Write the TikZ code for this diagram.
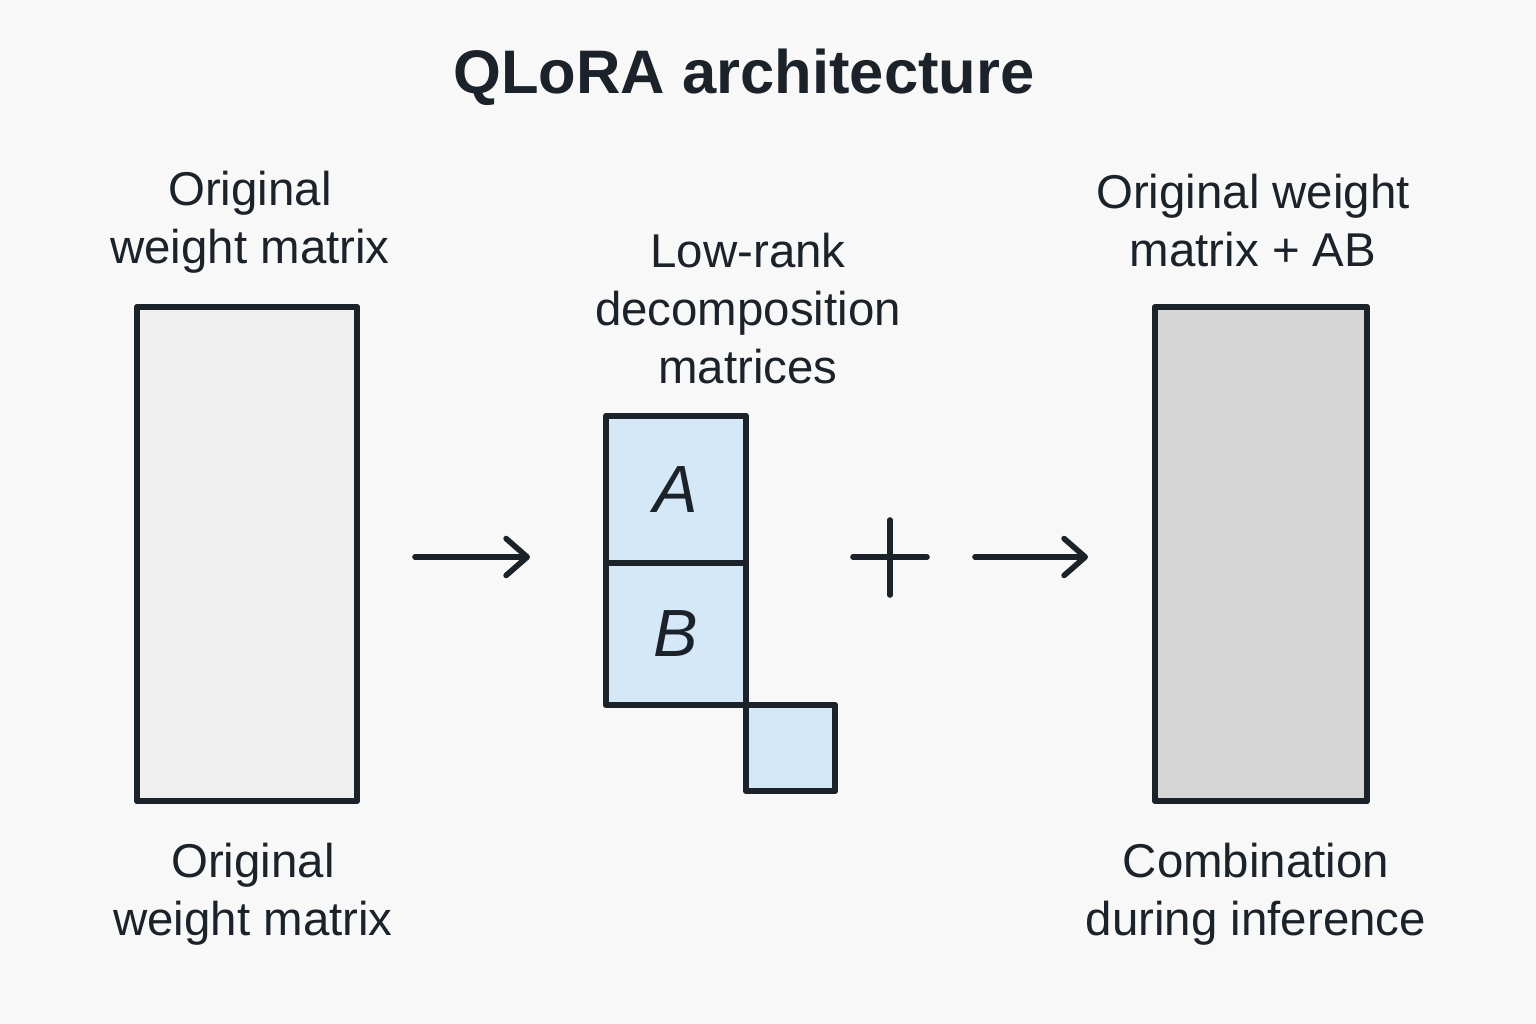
\documentclass[tikz,border=0pt]{standalone}
\usepackage{fontspec}
\setmainfont{Liberation Sans}
\usetikzlibrary{arrows.meta}
\definecolor{ink}{HTML}{1B222A}
\definecolor{paper}{HTML}{F8F8F8}
\definecolor{lowrank}{HTML}{D5E8F8}
\definecolor{frozen}{HTML}{F0F0F0}
\definecolor{merged}{HTML}{D6D6D6}
\begin{document}
\begin{tikzpicture}[x=0.02cm,y=-0.02cm,
  lbl/.style={align=center,text=ink,font=\fontsize{27}{33}\selectfont},
  mat/.style={draw=ink,line width=3.8pt,line join=round,inner sep=0pt},
  letter/.style={text=ink,font=\fontsize{38}{40}\selectfont\itshape},
  arr/.style={draw=ink,line width=3.2pt,line cap=round,
    -{Straight Barb[length=12pt,width=21pt,line cap=round,line join=round]}}]
\fill[paper] (0,0) rectangle (1536,1024);
\useasboundingbox (0,0) rectangle (1536,1024);
\node[text=ink,font=\bfseries\fontsize{35}{40}\selectfont] (title) at (744,77) {QLoRA architecture};
% original weights
\node[mat,fill=frozen,minimum width=4.4cm,minimum height=9.88cm] (W) at (247,554) {};
\node[lbl] (Wtop) at (250,222) {Original\\weight matrix};
\node[lbl] (Wbot) at (253,894) {Original\\weight matrix};
\coordinate (in1) at (415,557);
\coordinate (out1) at (530,557);
\draw[arr] (in1) -- (out1);
% low-rank A and B
\node[mat,fill=lowrank,minimum width=2.8cm,minimum height=2.94cm,letter] (A) at (676,489.5) {A};
\node[mat,fill=lowrank,minimum width=2.8cm,minimum height=2.84cm,letter] (B) at (676,634) {B};
\node[mat,fill=lowrank,minimum width=1.78cm,minimum height=1.72cm] (r) at (790.5,748) {};
\node[lbl] (ABtop) at (748,309) {Low-rank\\decomposition\\matrices};
% plus
\coordinate (plus) at (890,557);
\draw[ink,line width=3.2pt,line cap=round] ([xshift=-0.74cm]plus) -- ([xshift=0.74cm]plus)
  ([yshift=0.74cm]plus) -- ([yshift=-0.76cm]plus);
\coordinate (in2) at (975,557);
\coordinate (out2) at (1088,557);
\draw[arr] (in2) -- (out2);
% merged weights
\node[mat,fill=merged,minimum width=4.24cm,minimum height=9.88cm] (M) at (1261,554) {};
\node[lbl] (Mtop) at (1253,221) {Original weight\\matrix + AB};
\node[lbl] (Mbot) at (1256,894) {Combination\\during inference};
\end{tikzpicture}
\end{document}
